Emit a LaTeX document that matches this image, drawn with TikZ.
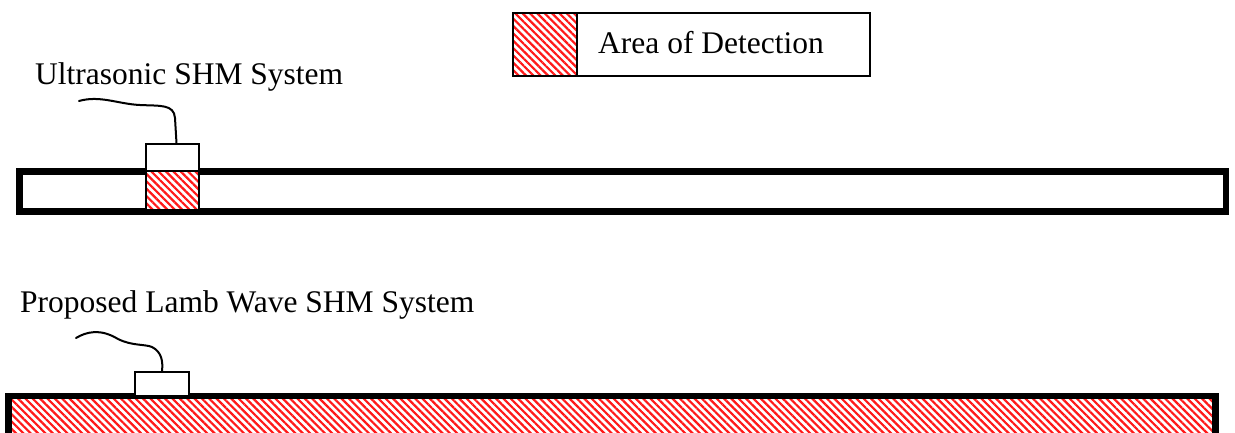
\documentclass[tikz,border=0pt]{standalone}
\usepackage{fontspec}
\setmainfont{Liberation Serif}
\usetikzlibrary{patterns.meta}
\begin{document}
\begin{tikzpicture}[x=1pt,y=-1pt,
  label text/.style={anchor=base west,inner sep=0pt,font=\fontsize{31.5}{36}\selectfont},
  hatched/.style={preaction={fill=white},
    pattern={Lines[angle=-45,distance=5.2pt,line width=2.2pt]},pattern color=red!90},
  barbox/.style={draw=black,line width=6.5pt,inner sep=0pt},
  sensor/.style={draw=black,line width=2pt,fill=white,inner sep=0pt},
  cable/.style={draw=black,line width=2pt,line cap=round}]
\useasboundingbox (0,0) rectangle (1235,432);
\clip (0,0) rectangle (1235,432);

% legend
\node[draw=black,line width=2.5pt,inner sep=0pt,minimum width=357pt,minimum height=63pt] (legend) at (691.5,44.5) {};
\node[hatched,draw=black,line width=2pt,inner sep=0pt,minimum width=64pt,minimum height=63pt] (legsq) at (545,44.5) {};
\node[label text] (legtxt) at (598,53.5) {Area of Detection};

% conventional ultrasonic system
\node[label text] (ttl1) at (35,84.5) {Ultrasonic SHM System};
\node[barbox,minimum width=1206.3pt,minimum height=40pt] (bar1) at (622.85,191.7) {};
\node[hatched,draw=black,line width=1.5pt,minimum width=53pt,minimum height=39pt,inner sep=0pt] (det1) at (172.5,190.5) {};
\node[sensor,minimum width=53pt,minimum height=27pt] (s1) at (172.5,157.5) {};
\coordinate (c1) at (79,101);
\draw[cable] (c1) .. controls (100,95) and (118,104) .. (140,105)
  .. controls (160,106) and (174,104) .. (175,118)
  -- ([xshift=4pt]s1.north);

% proposed Lamb wave system
\node[label text] (ttl2) at (20,312) {Proposed Lamb Wave SHM System};
\node[barbox,hatched,minimum width=1207pt,minimum height=60pt] (bar2) at (612,426) {};
\node[sensor,minimum width=54pt,minimum height=24pt] (s2) at (162,384) {};
\coordinate (c2) at (76,338);
\draw[cable] (c2) .. controls (86,332) and (100,328) .. (118,339)
  .. controls (132,346) and (145,344) .. (152,347)
  .. controls (162,352) and (163,362) .. (s2.north);
\end{tikzpicture}
\end{document}
